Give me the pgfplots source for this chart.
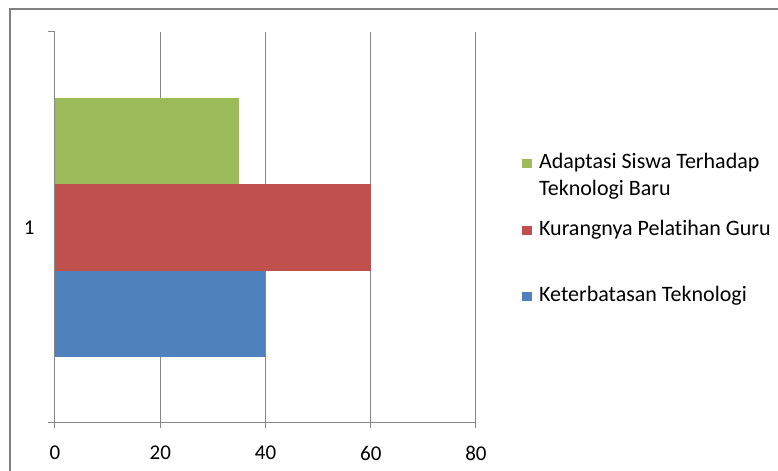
\documentclass[border=0pt]{standalone}
\usepackage{pgfplots}
\pgfplotsset{compat=1.18}
\usepackage{fontspec}
\setmainfont{Carlito}[Ligatures=NoCommon]
\definecolor{cblue}{HTML}{4F81BD}
\definecolor{cred}{HTML}{C0504D}
\definecolor{cgreen}{HTML}{9BBB59}
\definecolor{gridc}{HTML}{868686}
\definecolor{framec}{HTML}{808080}
\begin{document}
\fontsize{10.5}{13.5}\selectfont
\begin{tikzpicture}
\path[use as bounding box] (-27.5pt,-24pt) rectangle (361.5pt,211.5pt);
\begin{axis}[
  at={(0pt,0pt)}, anchor=south west,
  scale only axis, width=210.5pt, height=195.5pt,
  xbar, bar width=43.3pt,
  xmin=0, xmax=80, ymin=0.5, ymax=1.5,
  xtick={0,20,40,60,80},
  ytick={1}, yticklabels={1},
  minor ytick={0.5,1.5},
  axis x line*=bottom, axis y line*=left,
  axis line style={gridc, line width=0.5pt, -},
  tick align=outside,
  major tick length=2.5pt, minor tick length=3.5pt,
  tick style={gridc, line width=0.5pt},
  major y tick style={draw=none},
  xmajorgrids, grid style={gridc, line width=0.5pt},
  /pgf/number format/assume math mode=true,
  ticklabel style={font=\fontsize{10.5}{13.5}\selectfont, text=black},
  xticklabel style={yshift=-5.3pt},
  yticklabel style={xshift=-4pt},
  legend cell align=left,
  reverse legend,
  legend style={at={(1.1093,0.4928)}, anchor=west, draw=none, fill=none,
    inner sep=0pt, row sep=23.25pt, column sep=3.75pt,
    nodes={inner sep=0pt, text height=7.5pt, text depth=2.5pt},
    font=\fontsize{11}{13.5}\selectfont},
  legend image code/.code={\fill[#1] (0pt,-2.3pt) rectangle (4.6pt,2.3pt);},
]
\addplot[fill=cblue, draw=none, bar shift=-43.3pt] coordinates {(40,1)};
\addlegendentry{Keterbatasan Teknologi}
\addplot[fill=cred, draw=none, bar shift=0pt] coordinates {(60,1)};
\addlegendentry{Kurangnya Pelatihan Guru}
\addplot[fill=cgreen, draw=none, bar shift=43.3pt] coordinates {(35,1)};
\addlegendentry{\begin{tabular}[t]{@{}l@{}}Adaptasi Siswa Terhadap\\Teknologi Baru\end{tabular}}
\end{axis}
\draw[framec, line width=1pt] (-22.5pt,-24pt) -- (-22.5pt,207pt) -- (361.5pt,207pt);
\end{tikzpicture}
\end{document}
